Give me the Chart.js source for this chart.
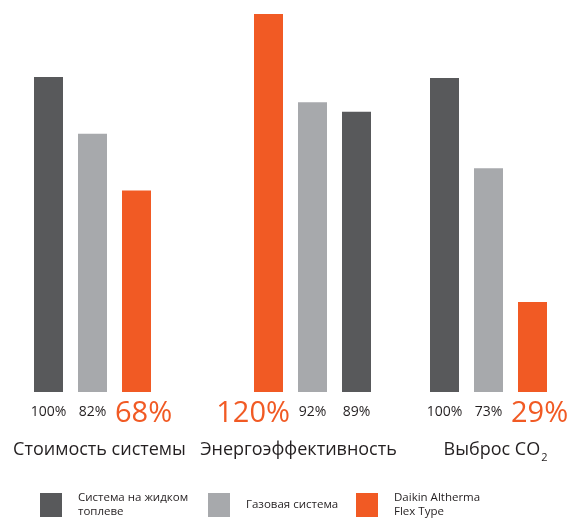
<!DOCTYPE html>
<html>
<head>
<meta charset="utf-8">
<script src="https://cdn.jsdelivr.net/npm/chart.js@4"></script>
<style>
  body { margin: 0; background: #fff; }
  #wrap { width: 583px; height: 523px; position: relative; }
</style>
</head>
<body>
<div id="wrap"><canvas id="chart"></canvas></div>
<script>
// Group names (₂ is drawn as a subscript)
const groupNames = ["Стоимость системы", "Энергоэффективность", "Выброс CO₂"];

// Series names, one line per entry
const seriesNames = [
  ["Система на жидком", "топлеве"],
  ["Газовая система"],
  ["Daikin Altherma", "Flex Type"],
];

// Bar heights per group (% of liquid-fuel system)
const liquidFuel = [100, 89, 99.7];
const gas = [82, 92, 71];
const daikin = [64, 120, 28.6];

// Printed labels under the bars
const liquidFuelLabels = ["100%", "89%", "100%"];
const gasLabels = ["82%", "92%", "73%"];
const daikinLabels = ["68%", "120%", "29%"];

// Order of the series inside each group (index into seriesNames)
const seriesOrder = [[0, 1, 2], [2, 1, 0], [0, 1, 2]];

const colors = ["#58595b", "#a7a9ac", "#f15a24"];
const textColor = "#231f20";
const font = "'Open Sans', sans-serif";

// Slot layout: 12 equal slots, groups start at these slots
const slotCount = 12;
const groupStart = [0, 5, 9];
const groupLabelShift = [7, -14, 7];

const allValues = [liquidFuel, gas, daikin];
const allLabels = [liquidFuelLabels, gasLabels, daikinLabels];

const slots = Array.from({ length: slotCount }, (_, i) => "s" + i);

// one dataset per series, null everywhere except its own slots
const datasets = seriesNames.map((name, s) => {
  const data = new Array(slotCount).fill(null);
  const texts = new Array(slotCount).fill(null);
  const firstInGroup = new Array(slotCount).fill(false);
  groupNames.forEach((g, gi) => {
    const pos = seriesOrder[gi].indexOf(s);
    data[groupStart[gi] + pos] = allValues[s][gi];
    texts[groupStart[gi] + pos] = allLabels[s][gi];
    firstInGroup[groupStart[gi] + pos] = pos === 0;
  });
  return {
    label: name.join(" "),
    data: data,
    texts: texts,
    firstInGroup: firstInGroup,
    backgroundColor: colors[s],
    barPercentage: 29 / 44,
    categoryPercentage: 1,
    grouped: false,
  };
});

// Draw value labels, group names and the legend
const labelsPlugin = {
  id: "labels",
  afterDatasetsDraw(chart) {
    const c = chart.ctx;
    const area = chart.chartArea;
    c.save();
    c.textBaseline = "middle";

    // value labels
    chart.data.datasets.forEach((ds, s) => {
      const meta = chart.getDatasetMeta(s);
      ds.data.forEach((v, i) => {
        if (v === null) return;
        const bar = meta.data[i];
        if (s === 2) {
          // big orange label hangs outward from the group
          c.font = "29px " + font;
          c.fillStyle = colors[2];
          if (ds.firstInGroup[i]) {
            c.textAlign = "right";
            c.fillText(ds.texts[i], bar.x + bar.width / 2 + 7, area.bottom + 22);
          } else {
            c.textAlign = "left";
            c.fillText(ds.texts[i], bar.x - bar.width / 2 - 7, area.bottom + 22);
          }
        } else {
          c.textAlign = "center";
          c.font = "14px " + font;
          c.fillStyle = textColor;
          c.fillText(ds.texts[i], bar.x, area.bottom + 20);
        }
      });
    });

    // group names under each group
    const xs = chart.scales.x;
    c.textAlign = "left";
    c.fillStyle = textColor;
    groupNames.forEach((name, gi) => {
      const cx = xs.getPixelForValue(groupStart[gi] + 1) + groupLabelShift[gi];
      const parts = name.split("₂");
      const hasSub = parts.length > 1;
      c.font = "11px " + font;
      const subW = hasSub ? c.measureText("2").width + 1 : 0;
      c.font = "18px " + font;
      const mainW = c.measureText(parts[0]).width;
      const left = cx - (mainW + subW) / 2;
      c.fillText(parts[0], left, area.bottom + 58);
      if (hasSub) {
        c.font = "11px " + font;
        c.fillText("2", left + mainW + 1, area.bottom + 66);
      }
    });

    // legend
    const legendX = [40, 208, 356];
    const legendTop = 493;
    c.font = "11.5px " + font;
    seriesNames.forEach((lines, s) => {
      c.fillStyle = colors[s];
      c.fillRect(legendX[s], legendTop, 22, 24);
      c.fillStyle = textColor;
      const midY = legendTop + 12;
      const lh = 14;
      const startY = midY - ((lines.length - 1) * lh) / 2;
      lines.forEach((line, li) => {
        c.fillText(line, legendX[s] + 38, startY + li * lh);
      });
    });
    c.restore();
  },
};

new Chart(document.getElementById("chart"), {
  type: "bar",
  data: { labels: slots, datasets: datasets },
  options: {
    responsive: true,
    maintainAspectRatio: false,
    animation: false,
    layout: { padding: { left: 26.5, right: 28.5, top: 14, bottom: 131 } },
    plugins: { legend: { display: false }, tooltip: { enabled: false } },
    scales: {
      x: { display: false },
      y: { display: false, min: 0, max: 120 },
    },
  },
  plugins: [labelsPlugin],
});
</script>
</body>
</html>
